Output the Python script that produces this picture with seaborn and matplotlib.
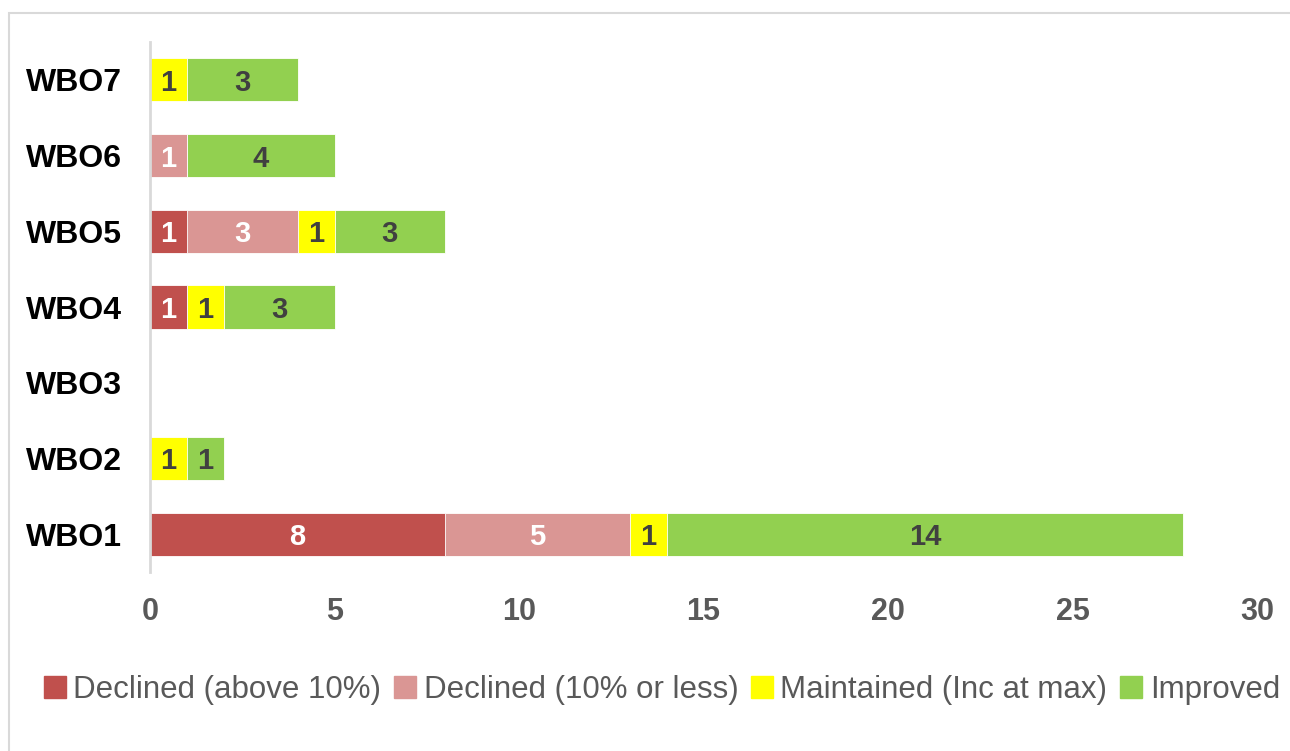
import matplotlib
matplotlib.use("Agg")
import matplotlib.pyplot as plt
import matplotlib.patches as mpatches
import numpy as np
import pandas as pd
import seaborn as sns

# data
categories = ["WBO1", "WBO2", "WBO3", "WBO4", "WBO5", "WBO6", "WBO7"]
series = ["Declined (above 10%)", "Declined (10% or less)", "Maintained (Inc at max)", "Improved"]
declined_big = [8, 0, 0, 1, 1, 0, 0]
declined_small = [5, 0, 0, 0, 3, 1, 0]
maintained = [1, 1, 0, 1, 1, 0, 1]
improved = [14, 1, 0, 3, 3, 4, 3]
x_ticks = [0, 5, 10, 15, 20, 25, 30]

colors = ["#C0504D", "#DA9694", "#FFFF00", "#92D050"]
label_colors = ["white", "white", "#404040", "#404040"]

sns.set_style("white")
plt.rcParams["font.family"] = ["Liberation Sans", "DejaVu Sans"]

values = np.array([declined_big, declined_small, maintained, improved], dtype=float)
cum = values.cumsum(axis=0)
order = categories[::-1]

fig = plt.figure(figsize=(12.9, 7.51), dpi=100)
ax = fig.add_axes([0.1163, 0.2383, 0.9744 - 0.1163, 0.944 - 0.2383])

# overlay cumulative bars, longest first, so every segment shows its own colour
for i in range(len(series) - 1, -1, -1):
    df = pd.DataFrame({"category": categories, "total": cum[i]})
    sns.barplot(data=df, x="total", y="category", order=order, orient="h",
                color=colors[i], saturation=1, width=0.57, ax=ax,
                edgecolor="white", linewidth=0.6)

# segment labels
for i in range(len(series)):
    for j, cat in enumerate(categories):
        v = values[i, j]
        if v <= 0:
            continue
        ax.text(cum[i, j] - v / 2, order.index(cat), f"{int(v)}",
                ha="center", va="center_baseline", fontsize=21, fontweight="bold",
                color=label_colors[i])

ax.set_xlim(0, 30)
ax.set_ylim(6.5, -0.5)
ax.set_xticks(x_ticks)
ax.set_xticklabels([str(t) for t in x_ticks], fontsize=22, fontweight="bold", color="#595959")
ax.tick_params(axis="x", length=0, pad=18)
ax.tick_params(axis="y", length=0, pad=20)
for lab in ax.get_yticklabels():
    lab.set_fontsize(23)
    lab.set_fontweight("bold")
    lab.set_color("black")
ax.set_xlabel("")
ax.set_ylabel("")
for side in ["top", "right", "bottom"]:
    ax.spines[side].set_visible(False)
ax.spines["left"].set_color("#D9D9D9")
ax.spines["left"].set_linewidth(2)
ax.grid(False)

handles = [mpatches.Patch(color=c, label=s) for c, s in zip(colors, series)]
fig.legend(handles=handles, loc="center", bbox_to_anchor=(0.513, 0.081), ncol=4,
           frameon=False, fontsize=22.5, handlelength=0.7, handleheight=0.7,
           handletextpad=0.25, columnspacing=0.4, labelcolor="#595959")

# chart area border (cropped on the right and bottom)
fig.patches.append(mpatches.Rectangle((9 / 1290, -0.05), 1.2, 1 - 13 / 751 + 0.05,
                                      transform=fig.transFigure, fill=False,
                                      edgecolor="#D9D9D9", linewidth=1.5))

fig.savefig("out.png", dpi=100)
